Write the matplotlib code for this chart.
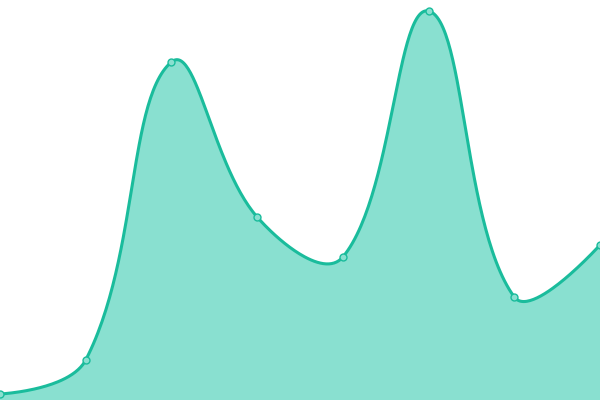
import numpy as np
import matplotlib
matplotlib.use('Agg')
import matplotlib.pyplot as plt

# data
categories = np.arange(8)
values = [6, 40, 338, 183, 143, 389, 103, 155]

line_color = '#1abc9c'
fill_color = '#89e0d0'


def smooth_curve(xs, ys, smooth=0.4, steps=60):
    """Bezier smoothing, control points along neighbour direction."""
    pts = np.column_stack([xs, ys]).astype(float)
    n = len(pts)
    cps = []
    for i in range(n):
        if i == 0 or i == n - 1:
            cps.append((pts[i], pts[i]))
            continue
        p0, p1, p2 = pts[i - 1], pts[i], pts[i + 1]
        v = p2 - p0
        d0 = np.hypot(*(p1 - p0))
        d1 = np.hypot(*(p2 - p1))
        r = d0 / (d0 + d1)
        cps.append((p1 - v * smooth * r, p1 + v * smooth * (1 - r)))
    out = []
    t = np.linspace(0, 1, steps)[:, None]
    for i in range(n - 1):
        a, b = pts[i], pts[i + 1]
        c1, c2 = cps[i][1], cps[i + 1][0]
        seg = ((1 - t) ** 3) * a + 3 * ((1 - t) ** 2) * t * c1 \
            + 3 * (1 - t) * t ** 2 * c2 + t ** 3 * b
        out.append(seg if i == 0 else seg[1:])
    out = np.vstack(out)
    return out[:, 0], out[:, 1]


fig = plt.figure(figsize=(6, 4), dpi=100)
ax = fig.add_axes([0, 0, 1, 1])

# smooth in pixel space so the curve shape matches the screen
sx = 600 / (len(categories) - 1)
cx, cy = smooth_curve(categories * sx, np.array(values, float))
cx = cx / sx

ax.fill_between(cx, cy, 0, color=fill_color, lw=0, zorder=1)
ax.plot(cx, cy, color=line_color, lw=2.2, zorder=2, solid_capstyle='round')
ax.plot(categories, values, 'o', ms=5, mfc=fill_color, mec=line_color,
        mew=1, zorder=3, clip_on=False)

ax.set_xlim(0, len(categories) - 1)
ax.set_ylim(0, 400)
ax.axis('off')

fig.savefig('out.png', dpi=100)
